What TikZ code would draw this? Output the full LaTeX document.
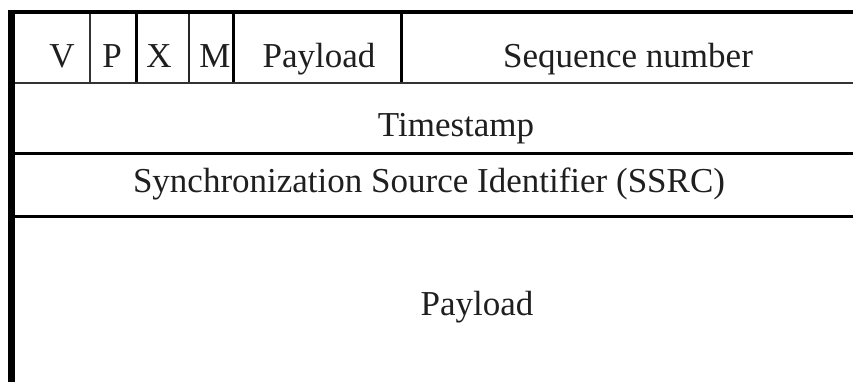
\documentclass[tikz,border=0pt]{standalone}
\usepackage{fontspec}
\setmainfont{Liberation Serif}
\begin{document}
\begin{tikzpicture}[x=1pt,y=-1pt,
  field/.style={anchor=base, inner sep=0pt, font=\fontsize{35}{42}\selectfont, text=black!88},
  heavy/.style={draw=black, line width=3pt, line cap=butt},
  light/.style={draw=black!80, line width=2pt, line cap=butt},
  hair/.style={draw=black!85, line width=1.6pt, line cap=butt}]
\useasboundingbox (0,0) rectangle (853,382);
\fill[white] (0,0) rectangle (853,382);

% outer frame: heavy left edge and top edge, open to the right and below
\draw[draw=black, line width=6.5pt, line cap=butt] (11.5,10) -- (11.5,382);
\draw[draw=black, line width=4pt, line cap=butt] (8.25,12) -- (853,12);

% row separators
\draw[light] (14.75,83) -- (853,83);
\draw[heavy] (14.75,153.5) -- (853,153.5);
\draw[heavy] (14.75,216.5) -- (853,216.5);

% header field dividers
\draw[light] (90,14) -- (90,82);
\draw[heavy] (136,14) -- (136,82);
\draw[hair]  (189,14) -- (189,82);
\draw[heavy] (233.5,14) -- (233.5,82);
\draw[heavy] (401.5,14) -- (401.5,82);

% field labels
\node[field] (v)   at (62,68)  {V};
\node[field] (p)   at (112,68) {P};
\node[field] (x)   at (159,68) {X};
\node[field] (m)   at (215,68) {M};
\node[field] (pt)  at (319,68) {Payload};
\node[field] (seq) at (628,68) {Sequence number};
\node[field] (ts)  at (456,137) {Timestamp};
\node[field] (ssrc) at (429,193) {Synchronization Source Identifier (SSRC)};
\node[field] (pl)  at (477,315) {Payload};
\end{tikzpicture}
\end{document}
